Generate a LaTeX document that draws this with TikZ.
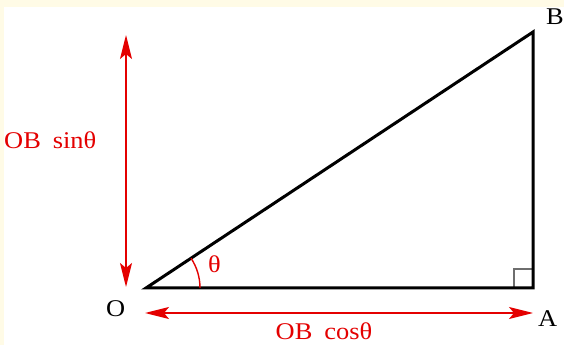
\documentclass[tikz,border=0pt]{standalone}
\usepackage{fontspec}
\setmainfont{Liberation Serif}[FakeStretch=1.1]
\usetikzlibrary{arrows.meta}
\definecolor{cream}{RGB}{255,251,230}
\definecolor{myred}{RGB}{228,0,0}
\definecolor{sqgray}{RGB}{110,110,110}
\tikzset{
  lbl/.style={inner sep=0pt, font=\fontsize{24}{24}\selectfont},
  redlbl/.style={lbl, text=myred},
  side/.style={line width=3pt, black, line join=miter},
  dim/.style={myred, line width=1.5pt, {Stealth[length=24pt,width=12pt,inset=5pt]}-{Stealth[length=24pt,width=12pt,inset=5pt]}},
}
\begin{document}
\begin{tikzpicture}[x=1pt,y=1pt]
\useasboundingbox (0,0) rectangle (564,345);
\fill[white] (0,0) rectangle (564,345);
\fill[cream] (0,338) rectangle (564,345);
\fill[cream] (0,0) rectangle (4,345);
% vertices
\coordinate (O) at (146,57);
\coordinate (A) at (533,57);
\coordinate (B) at (533,313);
% right angle mark
\draw[sqgray, line width=1.5pt] (514,57) -- (514,76) -- (533,76);
% triangle
\draw[side] (O) -- (A) -- (B) -- cycle;
% angle arc
\draw[myred, line width=1.4pt] (200,57) arc[start angle=0, end angle=33.5, radius=54];
\node[redlbl, anchor=base west] (th) at (208,72) {θ};
% dimension arrows
\coordinate (v1) at (126,310);
\coordinate (v2) at (126,58);
\draw[dim] (v1) -- (v2);
\coordinate (h1) at (145,32);
\coordinate (h2) at (533,32);
\draw[dim] (h1) -- (h2);
% labels
\node[lbl, anchor=base west] (lO) at (106,28) {O};
\node[lbl, anchor=base west] (lA) at (538,19) {A};
\node[lbl, anchor=base west] (lB) at (546,320) {B};
\node[redlbl, anchor=base west] (sin) at (4,196) {OB\hspace{0.5em}sinθ};
\node[redlbl, anchor=base west] (cos) at (275.5,6) {OB\hspace{0.5em}cosθ};
\end{tikzpicture}
\end{document}
